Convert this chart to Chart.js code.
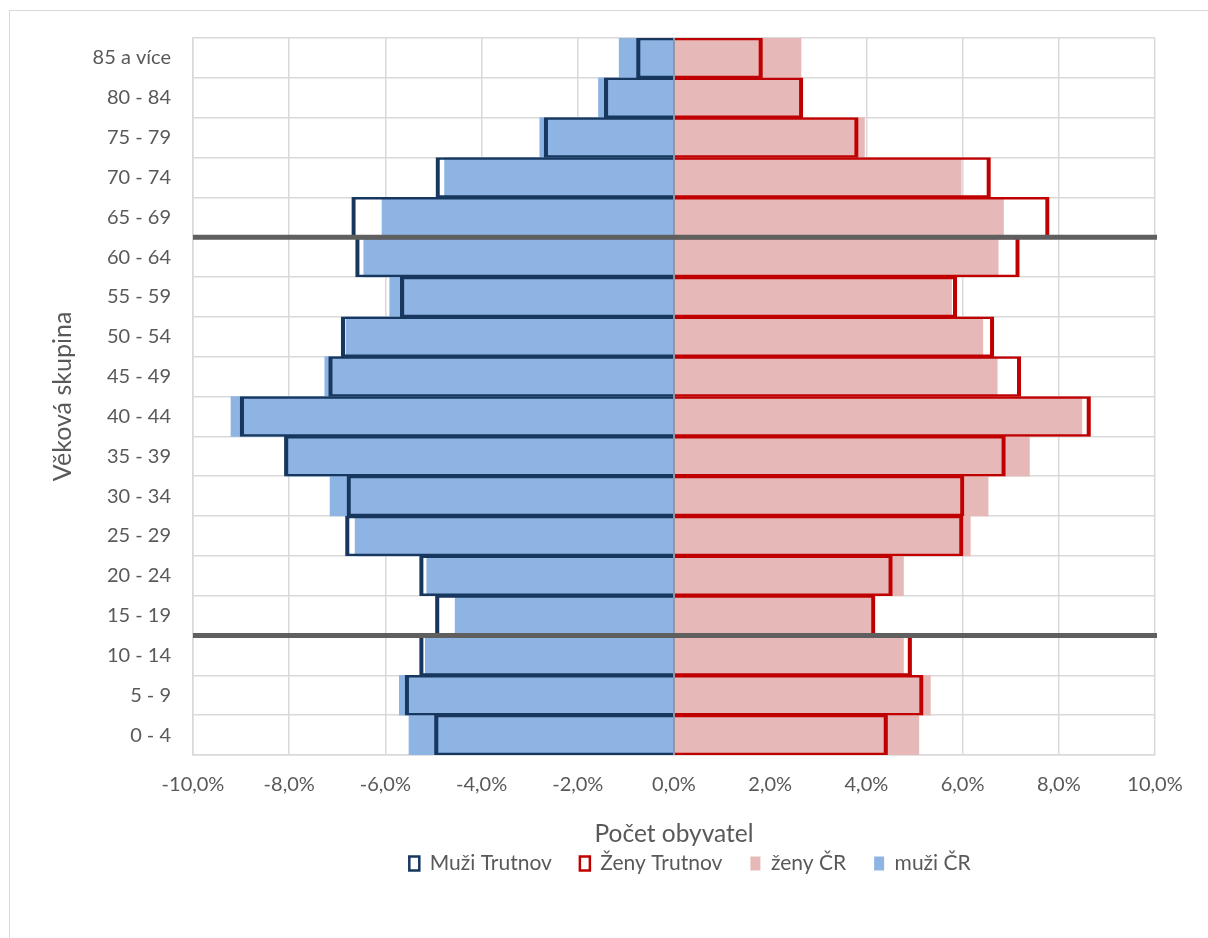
<!DOCTYPE html>
<html>
<head>
<meta charset="utf-8">
<script src="https://cdn.jsdelivr.net/npm/chart.js@4.4.1/dist/chart.umd.min.js"></script>
<style>
    html, body { margin: 0; padding: 0; background: #fff; overflow: hidden; }
    #frame { position: absolute; left: 9px; top: 10px; width: 1300px; height: 1000px; border: 1px solid #d9d9d9; }
    #wrap { position: absolute; left: 0; top: 0; width: 1208px; height: 938px; }
</style>
</head>
<body>
<div id="frame"></div>
<div id="wrap"><canvas id="chart"></canvas></div>
<script>
// věkové skupiny (shora dolů)
const ageGroups = ['85 a více', '80 - 84', '75 - 79', '70 - 74', '65 - 69', '60 - 64', '55 - 59', '50 - 54', '45 - 49',
    '40 - 44', '35 - 39', '30 - 34', '25 - 29', '20 - 24', '15 - 19', '10 - 14', '5 - 9', '0 - 4'];

// podíly v %, muži záporně
const muziTrutnov = [-0.78, -1.45, -2.70, -4.95, -6.70, -6.62, -5.69, -6.92, -7.18, -9.02, -8.10, -6.80, -6.83, -5.29, -4.96, -5.29, -5.59, -4.98];
const zenyTrutnov = [1.84, 2.68, 3.83, 6.58, 7.80, 7.18, 5.88, 6.65, 7.21, 8.66, 6.89, 6.03, 6.01, 4.54, 4.18, 4.94, 5.18, 4.44];
const zenyCR = [2.64, 2.62, 3.96, 5.97, 6.85, 6.74, 5.77, 6.42, 6.72, 8.48, 7.39, 6.53, 6.16, 4.77, 4.15, 4.77, 5.33, 5.09];
const muziCR = [-1.14, -1.57, -2.79, -4.77, -6.07, -6.45, -5.91, -6.82, -7.26, -9.21, -8.05, -7.15, -6.63, -5.14, -4.55, -5.17, -5.71, -5.51];

const xTicks = [-10, -8, -6, -4, -2, 0, 2, 4, 6, 8, 10];

// tlusté čáry pod těmito skupinami
const separatorsBelow = ['65 - 69', '15 - 19'];

const textColor = '#595959';
const fontFamily = 'Lato, "Open Sans", sans-serif';

const outline = { top: 1.8, bottom: 1.8, left: 3.5, right: 3.5 };

const separatorPlugin = {
    id: 'separators',
    afterDatasetsDraw(chart) {
        const ctx = chart.ctx;
        const y = chart.scales.y;
        const x = chart.scales.x;
        const area = chart.chartArea;

        // svislá osa v nule
        ctx.save();
        ctx.strokeStyle = '#7f8794';
        ctx.lineWidth = 1.5;
        ctx.beginPath();
        ctx.moveTo(x.getPixelForValue(0), area.top);
        ctx.lineTo(x.getPixelForValue(0), area.bottom);
        ctx.stroke();

        ctx.strokeStyle = '#5f5f5f';
        ctx.lineWidth = 5;
        separatorsBelow.forEach(function (label) {
            const i = ageGroups.indexOf(label);
            const py = (y.getPixelForValue(i) + y.getPixelForValue(i + 1)) / 2;
            ctx.beginPath();
            ctx.moveTo(area.left, py);
            ctx.lineTo(area.right + 2, py);
            ctx.stroke();
        });
        ctx.restore();
    },
    afterLayout(chart) {
        // legenda je v originále posunutá doprava
        chart.legend.left += 225;
    }
};

const chartContext = document.getElementById('chart').getContext('2d');

new Chart(chartContext, {
    type: 'bar',
    data: {
        labels: ageGroups,
        datasets: [
            {
                label: 'Muži Trutnov',
                data: muziTrutnov,
                backgroundColor: 'rgba(0,0,0,0)',
                borderColor: '#17375e',
                borderWidth: outline
            },
            {
                label: 'Ženy Trutnov',
                data: zenyTrutnov,
                backgroundColor: 'rgba(0,0,0,0)',
                borderColor: '#c00000',
                borderWidth: outline
            },
            {
                label: 'ženy ČR',
                data: zenyCR,
                backgroundColor: '#e6b9b8',
                borderWidth: 0
            },
            {
                label: 'muži ČR',
                data: muziCR,
                backgroundColor: '#8eb4e3',
                borderWidth: 0
            }
        ]
    },
    options: {
        indexAxis: 'y',
        responsive: true,
        maintainAspectRatio: false,
        animation: false,
        datasets: {
            bar: {
                grouped: false,
                barPercentage: 1,
                categoryPercentage: 1,
                borderSkipped: 'start'
            }
        },
        layout: {
            padding: { left: 0, right: 53, top: 38, bottom: 54 }
        },
        plugins: {
            tooltip: { enabled: false },
            legend: {
                position: 'bottom',
                labels: {
                    color: textColor,
                    font: { family: fontFamily, size: 21 },
                    boxWidth: 10,
                    boxHeight: 14,
                    padding: 28,
                    generateLabels(chart) {
                        const items = Chart.defaults.plugins.legend.labels.generateLabels(chart);
                        items.forEach(function (item, i) {
                            if (i < 2) {
                                item.fillStyle = '#ffffff';
                                item.lineWidth = 2.5;
                            } else {
                                item.lineWidth = 0;
                                item.strokeStyle = item.fillStyle;
                            }
                        });
                        return items;
                    }
                }
            }
        },
        scales: {
            x: {
                min: -10,
                max: 10,
                afterBuildTicks(scale) {
                    scale.ticks = xTicks.map(v => ({ value: v }));
                },
                afterFit(scale) {
                    scale.height = 70;
                },
                ticks: {
                    color: textColor,
                    font: { family: fontFamily, size: 20 },
                    padding: 18,
                    maxRotation: 0,
                    callback: (v) => v.toFixed(1).replace('.', ',') + '%'
                },
                grid: {
                    color: '#d9d9d9',
                    lineWidth: 1.5,
                    drawTicks: false
                },
                border: { color: '#d9d9d9', width: 1.5 },
                title: {
                    display: true,
                    text: 'Počet obyvatel',
                    color: textColor,
                    font: { family: fontFamily, size: 24.5 },
                    padding: { top: 0, bottom: -24 }
                }
            },
            y: {
                afterFit(scale) {
                    scale.width = 193;
                },
                ticks: {
                    color: textColor,
                    font: { family: fontFamily, size: 20 },
                    padding: 22,
                    autoSkip: false
                },
                grid: {
                    color: '#d9d9d9',
                    lineWidth: 1.5,
                    drawTicks: false
                },
                border: { color: '#d9d9d9', width: 1.5 },
                title: {
                    display: true,
                    text: 'Věková skupina',
                    color: textColor,
                    font: { family: fontFamily, size: 25 },
                    padding: { top: 48, bottom: 0 }
                }
            }
        }
    },
    plugins: [separatorPlugin]
});
</script>
</body>
</html>
